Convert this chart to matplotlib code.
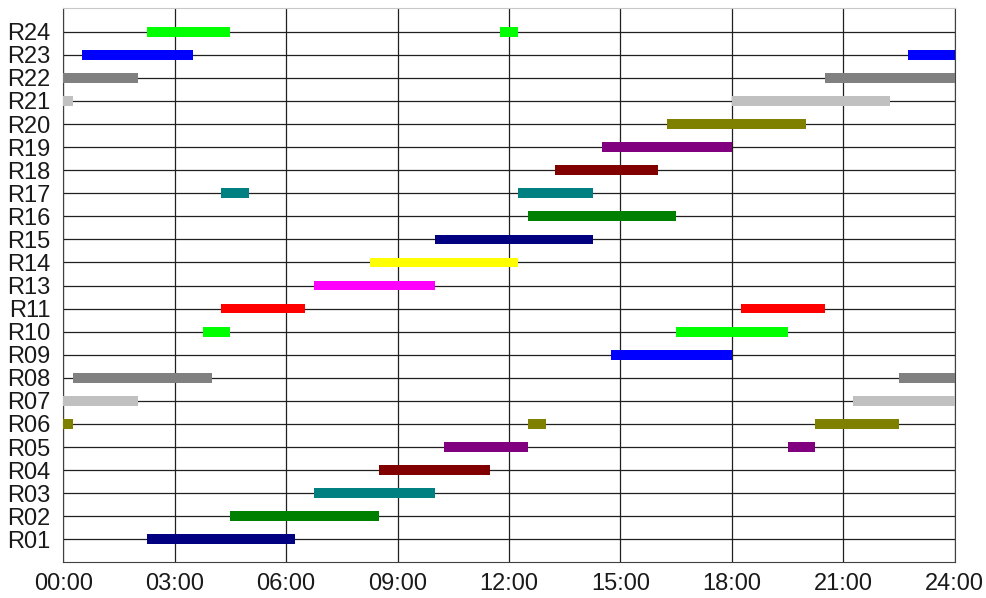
import matplotlib
matplotlib.use('Agg')
import matplotlib.pyplot as plt

plt.rcParams['font.family'] = ['Liberation Sans', 'DejaVu Sans']

# resources (R12 has no row in the chart)
rows = ['R01', 'R02', 'R03', 'R04', 'R05', 'R06', 'R07', 'R08', 'R09', 'R10', 'R11',
        'R13', 'R14', 'R15', 'R16', 'R17', 'R18', 'R19', 'R20', 'R21', 'R22', 'R23', 'R24']

colors = ['#000080', '#008000', '#008080', '#800000', '#800080', '#808000', '#C0C0C0',
          '#808080', '#0000FF', '#00FF00', '#FF0000', '#FF00FF', '#FFFF00', '#000080',
          '#008000', '#008080', '#800000', '#800080', '#808000', '#C0C0C0', '#808080',
          '#0000FF', '#00FF00']

# busy intervals per row, (start hour, end hour)
intervals = [
    [(2.25, 6.25)],
    [(4.5, 8.5)],
    [(6.75, 10.0)],
    [(8.5, 11.5)],
    [(10.25, 12.5), (19.5, 20.25)],
    [(0.0, 0.25), (12.5, 13.0), (20.25, 22.5)],
    [(0.0, 2.0), (21.25, 24.0)],
    [(0.25, 4.0), (22.5, 24.0)],
    [(14.75, 18.0)],
    [(3.75, 4.5), (16.5, 19.5)],
    [(4.25, 6.5), (18.25, 20.5)],
    [(6.75, 10.0)],
    [(8.25, 12.25)],
    [(10.0, 14.25)],
    [(12.5, 16.5)],
    [(4.25, 5.0), (12.25, 14.25)],
    [(13.25, 16.0)],
    [(14.5, 18.0)],
    [(16.25, 20.0)],
    [(0.0, 0.25), (18.0, 22.25)],
    [(0.0, 2.0), (20.5, 24.0)],
    [(0.5, 3.5), (22.75, 24.0)],
    [(2.25, 4.5), (11.75, 12.25)],
]

hour_ticks = [0, 3, 6, 9, 12, 15, 18, 21, 24]
hour_labels = ['00:00', '03:00', '06:00', '09:00', '12:00', '15:00', '18:00', '21:00', '24:00']

fig = plt.figure(figsize=(9.87, 5.98), dpi=100)
ax = fig.add_axes([0.0641, 0.0607, 0.9032, 0.9259])

bar_h = 0.42
for i, (spans, c) in enumerate(zip(intervals, colors)):
    ax.broken_barh([(s, e - s) for s, e in spans], (i - bar_h / 2, bar_h),
                   facecolors=c, edgecolor='none', zorder=3)

ax.set_xlim(0, 24)
ax.set_ylim(-0.97, len(rows) + 0.03)
ax.set_xticks(hour_ticks)
ax.set_xticklabels(hour_labels)
ax.set_yticks(range(len(rows)))
ax.set_yticklabels(rows)
ax.tick_params(axis='both', length=0, labelsize=17, colors='#1a1a1a')
ax.tick_params(axis='y', pad=9)
ax.tick_params(axis='x', pad=8)
ax.grid(True, color='#202020', linewidth=0.9, zorder=1)
ax.set_axisbelow(True)

for side in ['left', 'bottom', 'right']:
    ax.spines[side].set_color('#404040')
ax.spines['top'].set_color('#c8c8c8')

fig.savefig('out.png', dpi=100)
